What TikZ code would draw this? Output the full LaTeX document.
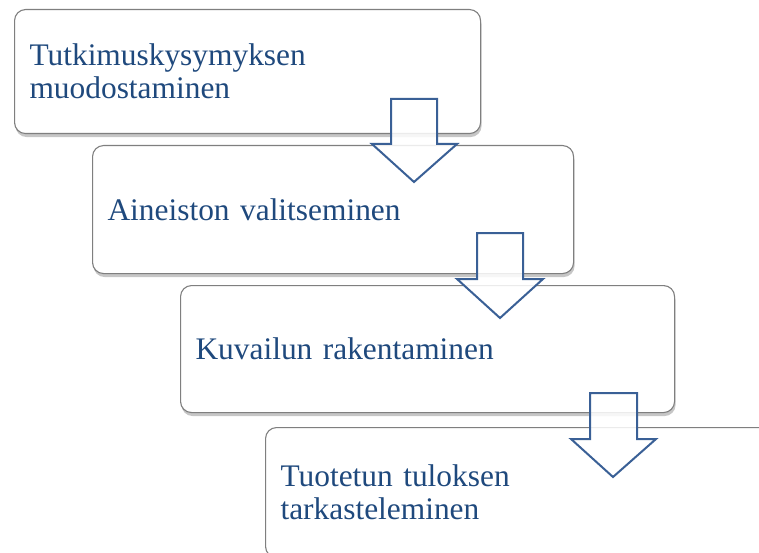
\documentclass[tikz,border=0pt]{standalone}
\usepackage{fontspec}
\setmainfont{Liberation Serif}
\usepackage{tikz}
\usetikzlibrary{shadows}

\definecolor{stepblue}{HTML}{1F497D}
\definecolor{arrowblue}{HTML}{3A6096}
\definecolor{boxgray}{HTML}{7F7F7F}

\tikzset{
  phasebox/.style={draw=boxgray, line width=1.1pt, rounded corners=11pt, fill=white,
    anchor=north west, align=left, text=stepblue, inner xsep=15pt, inner ysep=0pt,
    font=\fontsize{31.4}{33}\selectfont,
    drop shadow={shadow xshift=1pt, shadow yshift=-3.5pt, opacity=0.45}},
  downarrow/.style={draw=arrowblue, line width=2pt, fill=white, fill opacity=0.85, line join=miter}
}

\begin{document}
\begin{tikzpicture}[x=1pt,y=-1pt]
                \useasboundingbox (0,0) rectangle (759,553);
                \clip (0,0) rectangle (759,553);
                \node[phasebox, text width=436pt, minimum height=124pt] (tutkimus) at (14,9) {Tutkimuskysymyksen\\muodostaminen};
                \node[phasebox, text width=451pt, minimum height=128pt] (aineisto) at (92,145) {Aineiston valitseminen};
                \node[phasebox, text width=464pt, minimum height=127pt] (kuvailu) at (180,285) {Kuvailun rakentaminen};
                \node[phasebox, text width=520pt, minimum height=130pt] (tulos) at (265,427) {Tuotetun tuloksen\\tarkasteleminen};
                \coordinate (nuoli1) at (391,99);
                \coordinate (nuoli2) at (477,233);
                \coordinate (nuoli3) at (590,393);
                \draw[downarrow] (nuoli1) -- ++(46,0) -- ++(0,45) -- ++(20,0) -- ++(-43,38) -- ++(-42,-38) -- ++(19,0) -- cycle;
                \draw[downarrow] (nuoli2) -- ++(46,0) -- ++(0,46) -- ++(20,0) -- ++(-43,39) -- ++(-43,-39) -- ++(20,0) -- cycle;
                \draw[downarrow] (nuoli3) -- ++(47,0) -- ++(0,46) -- ++(19,0) -- ++(-43,38) -- ++(-42,-38) -- ++(19,0) -- cycle;
            \end{tikzpicture}
\end{document}
